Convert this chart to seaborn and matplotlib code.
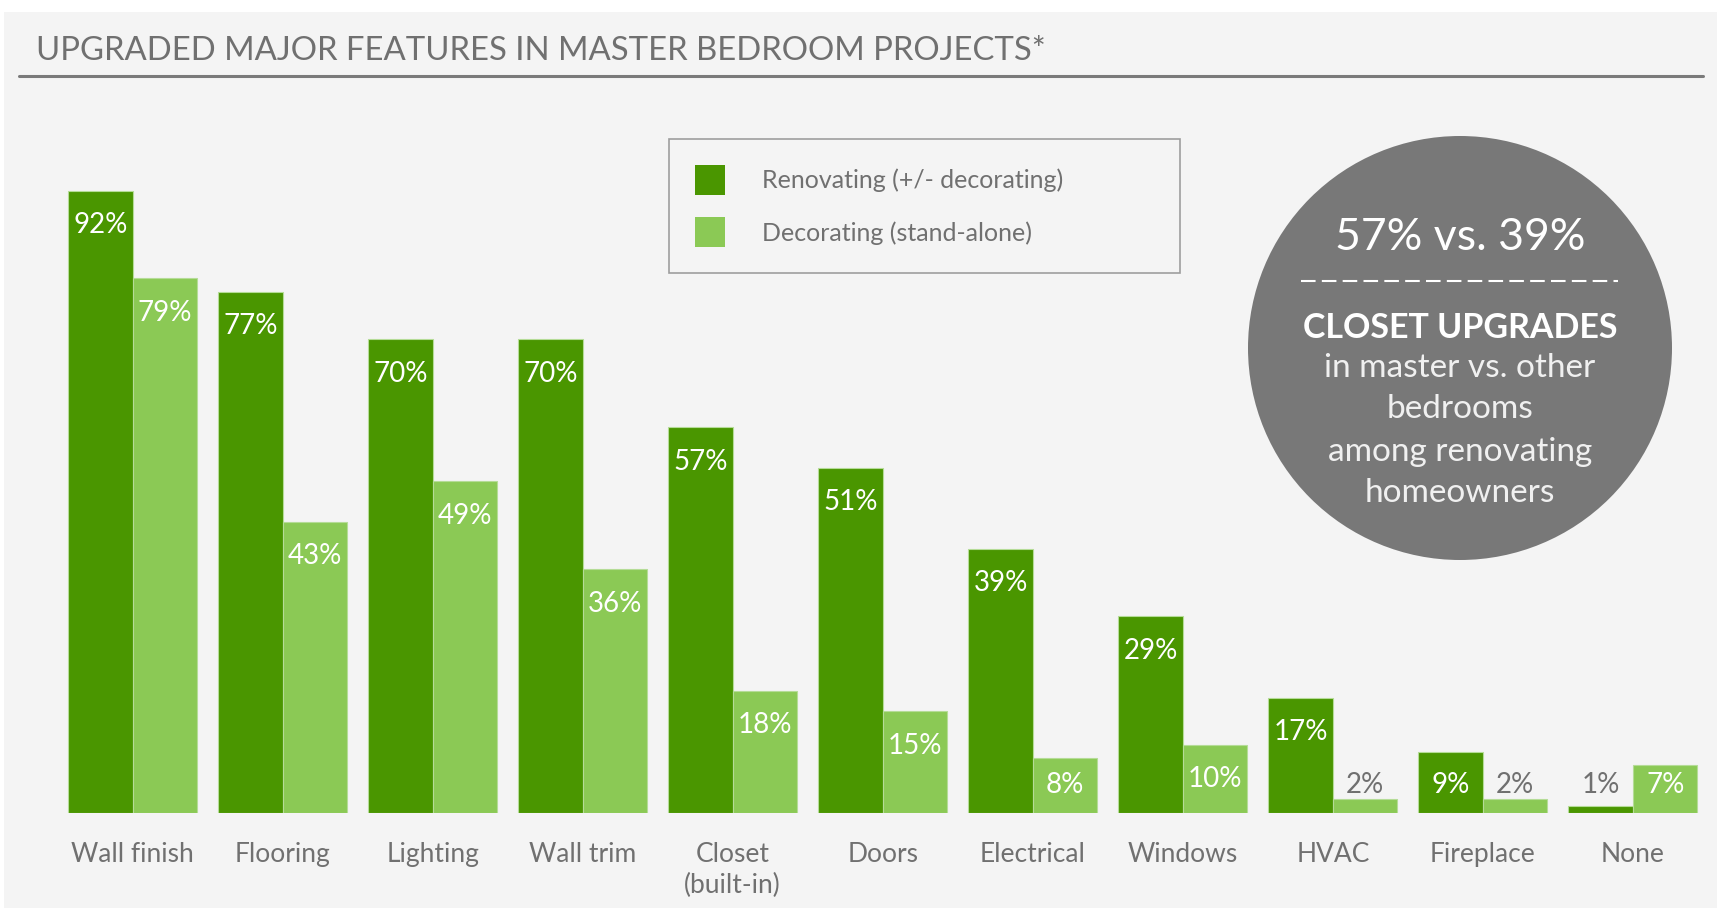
import numpy as np
import pandas as pd
import matplotlib.pyplot as plt
import matplotlib.patches as mpatches
import seaborn as sns

# chart data
features = ['Wall finish', 'Flooring', 'Lighting', 'Wall trim', 'Closet\n(built-in)', 'Doors',
            'Electrical', 'Windows', 'HVAC', 'Fireplace', 'None']
renovating = [92, 77, 70, 70, 57, 51, 39, 29, 17, 9, 1]
decorating = [79, 43, 49, 36, 18, 15, 8, 10, 2, 2, 7]
groups = ['Renovating (+/- decorating)', 'Decorating (stand-alone)']

dark_green = '#4a9600'
light_green = '#8bc955'
text_gray = '#707070'

df = pd.DataFrame({
    'feature': features * 2,
    'pct': renovating + decorating,
    'group': [groups[0]] * len(features) + [groups[1]] * len(features),
})

sns.set_style('white')
plt.rcParams['font.family'] = ['Lato', 'DejaVu Sans']

W, H = 1717, 908
fig = plt.figure(figsize=(W / 100, H / 100), dpi=100, facecolor='white')
fig.add_artist(mpatches.Rectangle((4 / W, 0), 1, 1 - 12 / H, transform=fig.transFigure,
                                  facecolor='#f4f4f4', edgecolor='none', zorder=-10))

# axes spans the full width, categories mapped by xlim
base_px = 812.5
ax = fig.add_axes([0, (H - base_px) / H, 1, 676 / H])
ax.set_facecolor('none')
sns.barplot(data=df, x='feature', y='pct', hue='group', palette=[dark_green, light_green],
            width=0.86, ax=ax, legend=False, edgecolor='#b5dc97', linewidth=0.8, saturation=1)
pitch = 150.0
ax.set_xlim(-132.5 / pitch, 10 + (W - 1633) / pitch)
ax.set_ylim(0, 100)
ax.set_xlabel('')
ax.set_ylabel('')
ax.set_yticks([])
sns.despine(ax=ax, left=True, bottom=True)
ax.tick_params(axis='x', length=0, pad=21, labelsize=19, labelcolor=text_gray)
for t in ax.get_xticklabels():
    t.set_linespacing(1.3)

# value labels
for cont in ax.containers:
    for bar in cont:
        v = bar.get_height()
        xc = bar.get_x() + bar.get_width() / 2
        y = max(v - 5.1, 4.1)
        color = 'white' if v > 5 else text_gray
        ax.text(xc, y, f'{v:.0f}%', ha='center', va='center', fontsize=20, color=color)

# legend
handles = [mpatches.Patch(facecolor=dark_green, edgecolor='none'),
           mpatches.Patch(facecolor=light_green, edgecolor='none')]
leg = ax.legend(handles, groups, loc='upper left',
                bbox_to_anchor=(669 / W, 1 - 278 / H, 511 / W, 139 / H),
                bbox_transform=fig.transFigure, mode='expand', borderaxespad=0,
                fontsize=18, frameon=True, fancybox=False, edgecolor='#888888',
                handlelength=1.2, handleheight=1.45, handletextpad=1.45,
                borderpad=1.05, labelspacing=0.9)
leg.get_frame().set_facecolor('#f4f4f4')
leg.get_frame().set_linewidth(1.2)
for t in leg.get_texts():
    t.set_color(text_gray)

# title and rule
fig.text(36 / W, 1 - 51 / H, 'UPGRADED MAJOR FEATURES IN MASTER BEDROOM PROJECTS*',
         fontsize=23.7, color=text_gray, va='center', ha='left')
fig.add_artist(plt.Line2D([19 / W, 1703 / W], [1 - 76 / H, 1 - 76 / H],
                          color='#7a7a7a', linewidth=2.2))

# call-out circle
cx, cy, r = 1460, 348, 212
fig.add_artist(mpatches.Ellipse((cx / W, 1 - cy / H), 2 * r / W, 2 * r / H,
                                transform=fig.transFigure, facecolor='#787878',
                                edgecolor='none'))
fig.text(cx / W, 1 - 237 / H, '57% vs. 39%', fontsize=32, color='white',
         ha='center', va='center')
fig.add_artist(plt.Line2D([1301 / W, 1618 / W], [1 - 281 / H, 1 - 281 / H],
                          color='white', linewidth=1.5, linestyle=(0, (7, 3))))
fig.text(cx / W, 1 - 328 / H, 'CLOSET UPGRADES', fontsize=24.5, color='white',
         ha='center', va='center', fontweight='bold')
for txt, yy in [('in master vs. other', 368), ('bedrooms', 409),
                ('among renovating', 452), ('homeowners', 493)]:
    fig.text(cx / W, 1 - yy / H, txt, fontsize=24, color='#f0f0f0',
             ha='center', va='center')

fig.savefig('out.png', dpi=100, facecolor='white')
